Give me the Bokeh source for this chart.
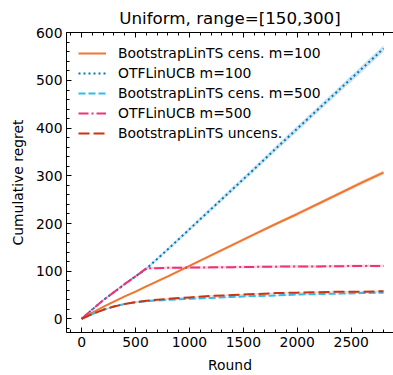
from bokeh.plotting import figure
from bokeh.models import LinearAxis, Range1d, Legend, LegendItem, SingleIntervalTicker, CustomJSTickFormatter
from bokeh.embed import file_html
from bokeh.resources import INLINE
import numpy as np

rounds = [0, 100, 200, 300, 400, 500, 600, 800, 1000, 1200, 1400, 1600, 1800, 2000, 2200, 2400, 2600, 2800]
bs_cens_100 = [0, 13, 25, 36, 47, 57, 68, 89, 111, 133, 155, 177, 199, 220, 242, 264, 286, 307]
otf_100 = [0, 20, 39, 56, 73, 89, 105, 146, 188, 230, 272, 314, 357, 399, 441, 483, 525, 567]
bs_cens_500 = [0, 10, 19, 26, 31, 35, 37, 40, 42, 44, 46, 48, 49, 51, 52, 53, 54, 55]
otf_500 = [0, 20, 39, 56, 73, 89, 106, 107, 107.5, 108, 108.5, 109, 109.5, 110, 110, 110.5, 111, 111]
bs_uncens = [0, 10, 19, 26, 31, 35, 38, 42, 45, 48, 50, 52, 54, 55, 56, 57, 57, 58]
bs_cens_100_err = [0, 1, 1.5, 2, 2, 2.5, 2.5, 3, 3, 3, 3.5, 3.5, 3.5, 4, 4, 4, 4.5, 4.5]
otf_100_err = [0, 1, 2, 2, 2.5, 3, 3, 3.5, 4, 4.5, 5, 5, 5.5, 6, 6, 6.5, 7, 7]
bs_cens_500_err = [0, 1, 1, 1.5, 1.5, 1.5, 1.5, 1.5, 1.5, 1.5, 1.5, 1.5, 1.5, 1.5, 1.5, 1.5, 1.5, 1.5]
otf_500_err = [0, 1, 2, 2, 2.5, 3, 3, 3, 3, 3, 3, 3, 3, 3, 3, 3, 3, 3]
bs_uncens_err = [0, 1, 1, 1.5, 1.5, 1.5, 1.5, 1.5, 1.5, 1.5, 1.5, 1.5, 1.5, 1.5, 1.5, 1.5, 1.5, 1.5]

labels = ["BootstrapLinTS cens. m=100", "OTFLinUCB m=100", "BootstrapLinTS cens. m=500",
          "OTFLinUCB m=500", "BootstrapLinTS uncens."]
series = [bs_cens_100, otf_100, bs_cens_500, otf_500, bs_uncens]
errs = [bs_cens_100_err, otf_100_err, bs_cens_500_err, otf_500_err, bs_uncens_err]
colors = ["#EE7733", "#0077BB", "#33BBEE", "#EE3377", "#CC3311"]
dashes = ["solid", "2 3", "7 3", "10 3 2 3", "11 4"]

FONT = "DejaVu Sans"
FS = "13.9px"

p = figure(width=393, height=375, output_backend="svg", toolbar_location=None,
           x_range=Range1d(-140, 2892), y_range=Range1d(-28.6, 600.6),
           title="Uniform, range=[150,300]", min_border_right=0, min_border_left=66,
           min_border_top=0, min_border_bottom=0)
p.outline_line_color = None
p.grid.visible = False
p.background_fill_color = "white"
p.border_fill_color = "white"
p.title.align = "center"
p.title.text_font = FONT
p.title.text_font_size = "16.7px"
p.title.text_font_style = "normal"
p.title.text_color = "black"

x = np.array(rounds)
items = []
for lab, ys, er, c, d in zip(labels, series, errs, colors, dashes):
    ys = np.array(ys, dtype=float)
    er = np.array(er, dtype=float)
    p.varea(x=x, y1=ys - er, y2=ys + er, fill_color=c, fill_alpha=0.2)
for lab, ys, er, c, d in zip(labels, series, errs, colors, dashes):
    r = p.line(x, ys, line_color=c, line_width=2, line_dash=d)
    items.append(LegendItem(label=lab, renderers=[r]))

legend = Legend(items=items, location="top_left")
legend.border_line_color = None
legend.background_fill_alpha = 0
legend.label_text_font = FONT
legend.label_text_font_size = FS
legend.label_text_color = "black"
legend.glyph_width = 28
legend.glyph_height = 18
legend.label_height = 18
legend.spacing = 2
legend.margin = 12
legend.padding = 2
legend.label_standoff = 12
p.add_layout(legend)

xbottom = p.xaxis[0]
yleft = p.yaxis[0]

top = LinearAxis(formatter=CustomJSTickFormatter(code="return ''"))
p.add_layout(top, "above")

for ax in [xbottom, top]:
    ax.ticker = SingleIntervalTicker(interval=500, num_minor_ticks=5)
yleft.ticker = SingleIntervalTicker(interval=100, num_minor_ticks=5)

for ax in [xbottom, top, yleft]:
    ax.major_tick_in = 5
    ax.major_tick_out = 0
    ax.minor_tick_in = 3
    ax.minor_tick_out = 0
    ax.axis_line_color = "black"
    ax.major_tick_line_color = "black"
    ax.minor_tick_line_color = "black"
    ax.major_label_text_font = FONT
    ax.major_label_text_font_size = FS
    ax.major_label_text_color = "black"
    ax.axis_label_text_font = FONT
    ax.axis_label_text_font_size = FS
    ax.axis_label_text_font_style = "normal"
    ax.axis_label_text_color = "black"

top.major_label_standoff = 2
xbottom.axis_label = "Round"
yleft.axis_label = "Cumulative regret"
xbottom.major_label_standoff = 4
xbottom.axis_label_standoff = 7
yleft.major_label_standoff = 4
yleft.axis_label_standoff = 7

open("out.html", "w").write(file_html(p, INLINE))
